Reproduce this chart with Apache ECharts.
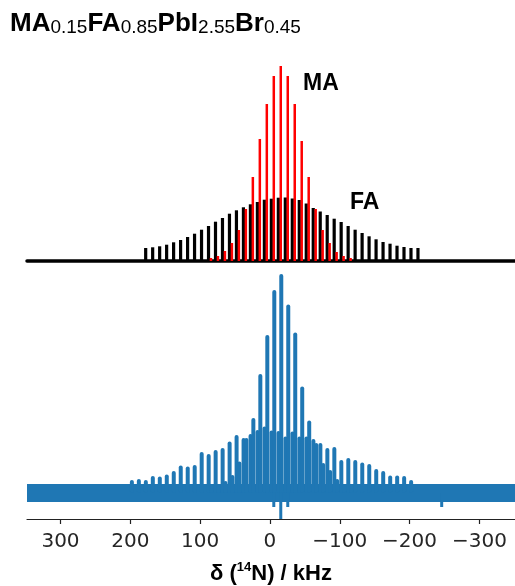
<!DOCTYPE html>
<html>
<head>
<meta charset="utf-8">
<script src="https://cdn.jsdelivr.net/npm/echarts@6/dist/echarts.min.js"></script>
<style>
html, body { margin: 0; padding: 0; background: #fff; }
#chart { width: 515px; height: 586px; }
</style>
</head>
<body>
<div id="chart"></div>
<script>
// sideband positions (kHz) and intensities
var faSimPos = [178.5, 168.5, 158.5, 148.5, 138.5, 128.5, 118.5, 108.5, 98.5, 88.5,
    78.5, 68.5, 58.5, 48.5, 38.5, 28.5, 18.5, 8.5, -1.5, -11.5,
    -21.5, -31.5, -41.5, -51.5, -61.5, -71.5, -81.5, -91.5, -101.5, -111.5,
    -121.5, -131.5, -141.5, -151.5, -161.5, -171.5, -181.5, -191.5, -201.5, -211.5];
var faSimInt = [13, 13.7, 14.7, 16.3, 18.7, 21, 24, 27.3, 31.3, 35,
    39.3, 43, 47.3, 50.7, 53.7, 56.7, 59, 61.3, 62.3, 63.3,
    63.5, 62.5, 61, 57.5, 53, 49.5, 46, 42.3, 39, 35,
    31.3, 28, 24.7, 21.7, 19, 17.3, 15.3, 14, 13, 13];

var maPos = [84.5, 74.5, 64.5, 54.5, 44.5, 34.5, 24.5, 14.5, 4.5, -5.5, -15.5,
    -25.5, -35.5, -45.5, -55.5, -65.5, -75.5, -85.5, -95.5, -105.5, -115.5];
var maSimInt = [3, 5, 10, 18, 31, 52, 84, 122, 157, 185, 195,
    185, 157, 120, 84, 52, 31, 18, 9, 5, 3];

var faExpPos = [198.5, 188.5].concat(faSimPos.slice(0, 39));
var faExpInt = [13, 14, 13, 17, 16.5, 18.5, 22, 27.5, 26.5, 28,
    41, 39, 43, 45, 51.5, 58, 55, 59, 63, 66.6,
    62.6, 62, 56.6, 61.6, 56.6, 56.6, 54, 50, 45, 46,
    33, 35, 33, 30.6, 29, 24, 22, 17.6, 17.6, 17, 13];
var maExpInt = [5, 8, 12, 18, 31.6, 55, 75, 119, 158, 203, 219,
    188.6, 160.6, 106.6, 72.6, 50, 30, 23, 14, 8, 5];

var dipPos = [-5.5, -15.5, -25.5, -246];
var dipInt = [-14, -26, -14, -14];

var tickVals = [300, 200, 100, 0, -100, -200, -300];

var xMin = -351, xMax = 348;

// flat baseline of the measured trace (noise band)
var baseline = [[xMax, 0], [xMin, 0]];

function pairs(xs, ys) {
    var out = [];
    for (var i = 0; i < xs.length; i++) {
        out.push([xs[i], ys[i]]);
    }
    return out;
}

var chart = echarts.init(document.getElementById('chart'));
var blue = '#1f77b4';

var option = {
    animation: false,
    backgroundColor: '#fff',
    title: {
        left: 10,
        top: 7,
        padding: 0,
        text: '{b|MA}{s|0.15}{b|FA}{s|0.85}{b|PbI}{s|2.55}{b|Br}{s|0.45}',
        textStyle: {
            rich: {
                b: { fontFamily: 'Liberation Sans', fontWeight: 'bold', fontSize: 26, color: '#000', lineHeight: 30, verticalAlign: 'bottom' },
                s: { fontFamily: 'Liberation Sans', fontWeight: 'normal', fontSize: 19, color: '#000', lineHeight: 15, verticalAlign: 'bottom' }
            }
        }
    },
    graphic: [
        { type: 'text', left: 303, top: 72, style: { text: 'MA', font: 'bold 23px "Liberation Sans"', fill: '#000' } },
        { type: 'text', left: 350, top: 191, style: { text: 'FA', font: 'bold 23px "Liberation Sans"', fill: '#000' } }
    ],
    grid: [
        { left: 27, right: 0, top: 61, height: 200 },
        { left: 27, right: 0, top: 273, height: 246 }
    ],
    xAxis: [
        {
            gridIndex: 0, type: 'value', min: xMin, max: xMax, inverse: true,
            axisLine: { onZero: true, lineStyle: { color: '#000', width: 3.5 } },
            axisTick: { show: false }, axisLabel: { show: false }, splitLine: { show: false }
        },
        {
            gridIndex: 1, type: 'value', min: xMin, max: xMax, inverse: true,
            axisLine: { onZero: false, lineStyle: { color: '#222', width: 1.2 } },
            axisTick: { show: true, length: 5, customValues: tickVals, lineStyle: { color: '#222', width: 1.2 } },
            axisLabel: {
                customValues: tickVals, margin: 13,
                fontFamily: 'DejaVu Sans', fontSize: 20, color: '#262626',
                formatter: function (v) { return String(v).replace('-', '\u2212'); }
            },
            splitLine: { show: false },
            name: '{b|\u03b4 (}{sup|14}{b|N) / kHz}',
            nameLocation: 'middle',
            nameGap: 42,
            nameTextStyle: {
                rich: {
                    b: { fontFamily: 'Liberation Sans', fontWeight: 'bold', fontSize: 22, color: '#000', lineHeight: 24, verticalAlign: 'bottom' },
                    sup: { fontFamily: 'Liberation Sans', fontWeight: 'bold', fontSize: 13, color: '#000', lineHeight: 13, verticalAlign: 'top' }
                }
            }
        }
    ],
    yAxis: [
        { gridIndex: 0, type: 'value', min: 0, max: 200, show: false },
        { gridIndex: 1, type: 'value', min: -26, max: 220, show: false }
    ],
    series: [
        {
            name: 'FA sim', type: 'bar', xAxisIndex: 0, yAxisIndex: 0,
            barWidth: 3.2, barGap: '-100%',
            itemStyle: { color: '#000' },
            data: pairs(faSimPos, faSimInt), z: 3
        },
        {
            name: 'MA sim', type: 'bar', xAxisIndex: 0, yAxisIndex: 0,
            barWidth: 2.5, barGap: '-100%',
            itemStyle: { color: '#ff0000' },
            data: pairs(maPos, maSimInt), z: 4
        },
        {
            name: 'noise', type: 'line', xAxisIndex: 1, yAxisIndex: 1,
            symbol: 'none', lineStyle: { color: blue, width: 18 },
            data: baseline, z: 2
        },
        {
            name: 'FA exp', type: 'bar', xAxisIndex: 1, yAxisIndex: 1,
            barWidth: 4, barGap: '-100%',
            itemStyle: { color: blue, borderRadius: 2 },
            data: pairs(faExpPos, faExpInt), z: 3
        },
        {
            name: 'MA exp', type: 'bar', xAxisIndex: 1, yAxisIndex: 1,
            barWidth: 4, barGap: '-100%',
            itemStyle: { color: blue, borderRadius: 2 },
            data: pairs(maPos, maExpInt), z: 3
        },
        {
            name: 'dips', type: 'bar', xAxisIndex: 1, yAxisIndex: 1,
            barWidth: 3, barGap: '-100%',
            itemStyle: { color: blue },
            data: pairs(dipPos, dipInt), z: 3
        }
    ]
};

chart.setOption(option);
</script>
</body>
</html>
